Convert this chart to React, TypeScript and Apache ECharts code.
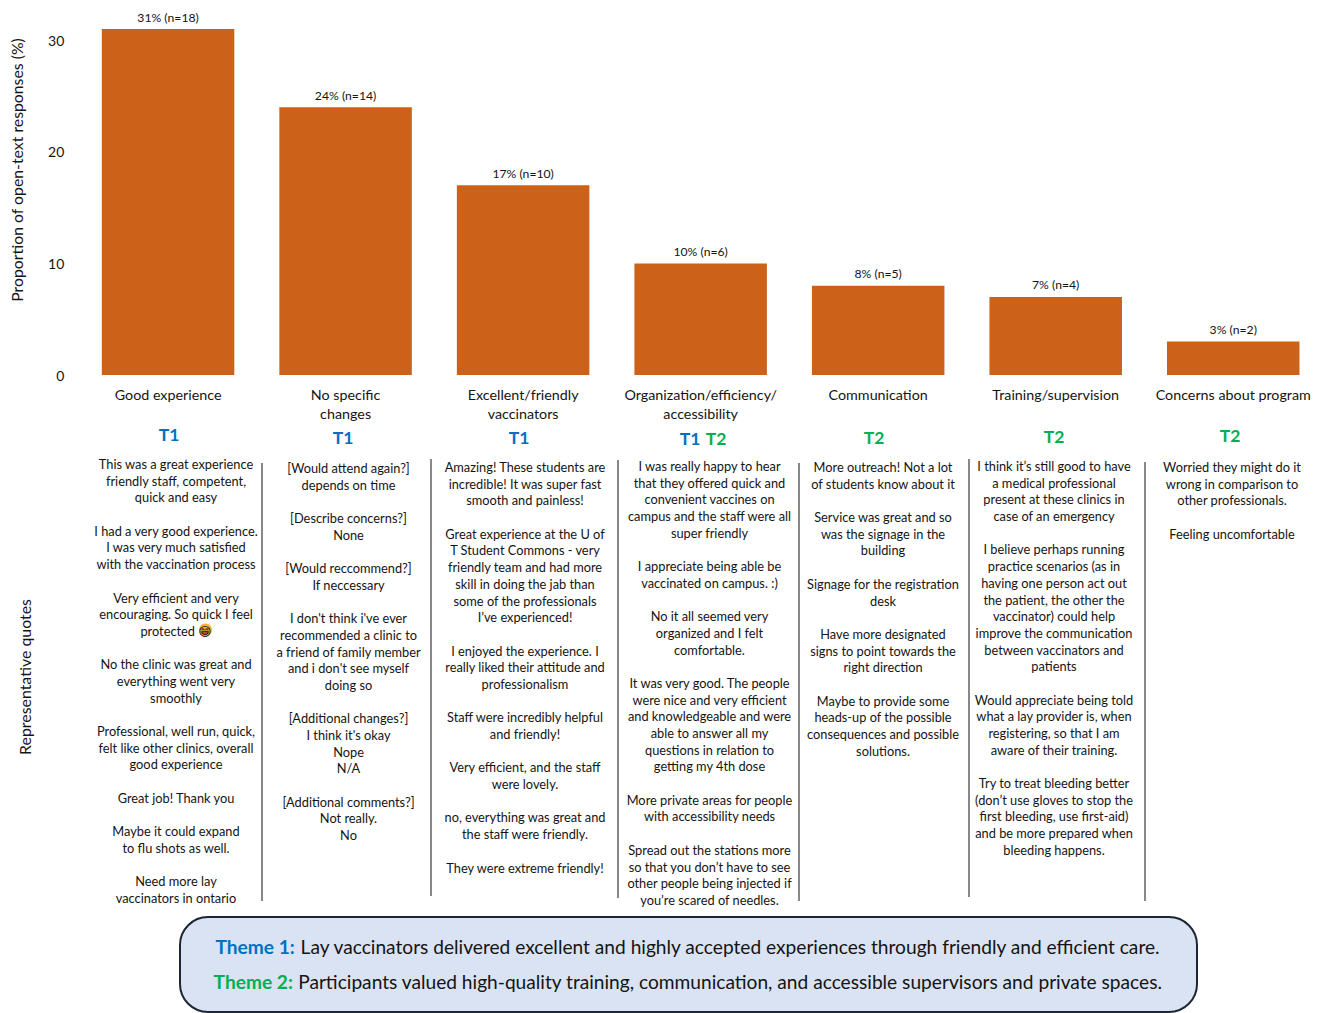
import React, { useEffect, useRef } from "react";
import * as echarts from "echarts";

// Open-text response categories and their counts
const categories = [
  "Good experience",
  "No specific\nchanges",
  "Excellent/friendly\nvaccinators",
  "Organization/efficiency/\naccessibility",
  "Communication",
  "Training/supervision",
  "Concerns about program",
];
const percents = [31, 24, 17, 10, 8, 7, 3];
const counts = [18, 14, 10, 6, 5, 4, 2];
const yTicks = [0, 10, 20, 30];

// Theme tags shown under each category
const themeTags = [["T1"], ["T1"], ["T1"], ["T1", "T2"], ["T2"], ["T2"], ["T2"]];

// Representative quotes, one list per category
const quotesGood = [
  "This was a great experience", "friendly staff, competent,", "quick and easy", "",
  "I had a very good experience.", "I was very much satisfied", "with the vaccination process", "",
  "Very efficient and very", "encouraging. So quick I feel", "protected 😁", "",
  "No the clinic was great and", "everything went very", "smoothly", "",
  "Professional, well run, quick,", "felt like other clinics, overall", "good experience", "",
  "Great job! Thank you", "",
  "Maybe it could expand", "to flu shots as well.", "",
  "Need more lay", "vaccinators in ontario",
];
const quotesNoChanges = [
  "[Would attend again?]", "depends on time", "",
  "[Describe concerns?]", "None", "",
  "[Would reccommend?]", "If neccessary", "",
  "I don't think i've ever", "recommended a clinic to", "a friend of family member", "and i don't see myself", "doing so", "",
  "[Additional changes?]", "I think it's okay", "Nope", "N/A", "",
  "[Additional comments?]", "Not really.", "No",
];
const quotesVaccinators = [
  "Amazing! These students are", "incredible! It was super fast", "smooth and painless!", "",
  "Great experience at the U of", "T Student Commons - very", "friendly team and had more", "skill in doing the jab than", "some of the professionals", "I’ve experienced!", "",
  "I enjoyed the experience. I", "really liked their attitude and", "professionalism", "",
  "Staff were incredibly helpful", "and friendly!", "",
  "Very efficient, and the staff", "were lovely.", "",
  "no, everything was great and", "the staff were friendly.", "",
  "They were extreme friendly!",
];
const quotesOrganization = [
  "I was really happy to hear", "that they offered quick and", "convenient vaccines on", "campus and the staff were all", "super friendly", "",
  "I appreciate being able be", "vaccinated on campus. :)", "",
  "No it all seemed very", "organized and I felt", "comfortable.", "",
  "It was very good. The people", "were nice and very efficient", "and knowledgeable and were", "able to answer all my", "questions in relation to", "getting my 4th dose", "",
  "More private areas for people", "with accessibility needs", "",
  "Spread out the stations more", "so that you don’t have to see", "other people being injected if", "you’re scared of needles.",
];
const quotesCommunication = [
  "More outreach! Not a lot", "of students know about it", "",
  "Service was great and so", "was the signage in the", "building", "",
  "Signage for the registration", "desk", "",
  "Have more designated", "signs to point towards the", "right direction", "",
  "Maybe to provide some", "heads-up of the possible", "consequences and possible", "solutions.",
];
const quotesTraining = [
  "I think it’s still good to have", "a medical professional", "present at these clinics in", "case of an emergency", "",
  "I believe perhaps running", "practice scenarios (as in", "having one person act out", "the patient, the other the", "vaccinator) could help", "improve the communication", "between vaccinators and", "patients", "",
  "Would appreciate being told", "what a lay provider is, when", "registering, so that I am", "aware of their training.", "",
  "Try to treat bleeding better", "(don’t use gloves to stop the", "first bleeding, use first-aid)", "and be more prepared when", "bleeding happens.",
];
const quotesConcerns = [
  "Worried they might do it", "wrong in comparison to", "other professionals.", "",
  "Feeling uncomfortable",
];
const quoteColumns = [
  quotesGood, quotesNoChanges, quotesVaccinators, quotesOrganization,
  quotesCommunication, quotesTraining, quotesConcerns,
];

const theme1Label = "Theme 1:";
const theme1Text = "Lay vaccinators delivered excellent and highly accepted experiences through friendly and efficient care.";
const theme2Label = "Theme 2:";
const theme2Text = "Participants valued high-quality training, communication, and accessible supervisors and private spaces.";

// Layout of the annotation panel under the axis
const FONT = 'Lato, "DejaVu Sans", sans-serif';
const INK = "#141414";
const BLUE = "#0070C0";
const GREEN = "#00B050";
const QUOTE_LINE = 16.69;
const quoteCenterX = [176, 348.5, 525, 709.5, 883, 1054, 1232];
const quoteFirstLineY = [464, 468, 467, 466, 467, 466, 467];
const tagX = [[169], [343], [519], [690, 716], [874], [1054], [1230]];
const tagY = [434.5, 437.5, 437.5, 438.5, 437.5, 436.5, 435.5];
const dividers = [
  [262, 463, 901],
  [431, 459, 896],
  [618, 460, 898],
  [799, 463, 901],
  [969, 459, 897],
  [1145, 462, 901],
];

function buildGraphics() {
  const items: any[] = [];

  items.push({
    type: "text", x: 16, y: 170, rotation: Math.PI / 2,
    style: { text: "Proportion of open-text responses (%)", font: `15.8px ${FONT}`, fill: INK, align: "center", verticalAlign: "middle" },
  });
  items.push({
    type: "text", x: 24, y: 677, rotation: Math.PI / 2,
    style: { text: "Representative quotes", font: `15.9px ${FONT}`, fill: INK, align: "center", verticalAlign: "middle" },
  });

  themeTags.forEach((tags, i) => {
    tags.forEach((tag, j) => {
      items.push({
        type: "text", x: tagX[i][j], y: tagY[i],
        style: { text: tag, font: `bold 17.5px ${FONT}`, fill: tag === "T1" ? BLUE : GREEN, align: "center", verticalAlign: "middle" },
      });
    });
  });

  // Warm disc behind the grinning face in the first quote column
  items.push({ type: "circle", shape: { cx: 205.5, cy: 630, r: 6.5 }, style: { fill: "#F3B23F" } });

  quoteColumns.forEach((lines, i) => {
    items.push({
      type: "text", x: quoteCenterX[i], y: quoteFirstLineY[i] - QUOTE_LINE / 2,
      style: { text: lines.join("\n"), font: `12.8px ${FONT}`, fill: INK, align: "center", verticalAlign: "top", lineHeight: QUOTE_LINE },
    });
  });

  dividers.forEach(([x, y1, y2]) => {
    items.push({ type: "line", shape: { x1: x, y1, x2: x, y2 }, style: { stroke: "#555555", lineWidth: 1.4 } });
  });

  items.push({
    type: "rect", shape: { x: 180, y: 917, width: 1017, height: 95, r: 28 },
    style: { fill: "#DAE3F3", stroke: "#1c2733", lineWidth: 2 },
  });
  const richStyles = (color: string) => ({
    tag: { font: `bold 19.15px ${FONT}`, fill: color },
    body: { font: `19.15px ${FONT}`, fill: INK },
  });
  items.push({
    type: "text", x: 688, y: 946,
    style: { text: `{tag|${theme1Label}} {body|${theme1Text}}`, rich: richStyles(BLUE), font: `19.15px ${FONT}`, align: "center", verticalAlign: "middle" },
  });
  items.push({
    type: "text", x: 688, y: 981,
    style: { text: `{tag|${theme2Label}} {body|${theme2Text}}`, rich: richStyles(GREEN), font: `19.15px ${FONT}`, align: "center", verticalAlign: "middle" },
  });
  return items;
}

export default function App() {
  const ref = useRef<HTMLDivElement>(null);

  useEffect(() => {
    document.body.style.margin = "0";
    const chart = echarts.init(ref.current!, undefined, { renderer: "svg" });
    chart.setOption({
      animation: false,
      backgroundColor: "#ffffff",
      grid: { left: 79.3, top: 17.9, width: 1244, height: 357.1, containLabel: false },
      xAxis: {
        type: "category",
        data: categories,
        axisLine: { show: false },
        axisTick: { show: false },
        axisLabel: { interval: 0, margin: 10, fontFamily: FONT, fontSize: 14.3, lineHeight: 19, color: INK },
      },
      yAxis: {
        type: "value",
        min: 0,
        max: 32,
        interval: 10,
        splitLine: { show: false },
        axisLine: { show: false },
        axisTick: { show: false },
        axisLabel: {
          margin: 15,
          fontFamily: FONT,
          fontSize: 14,
          color: INK,
          padding: [0, 0, 3, 0],
          formatter: (v: number) => (yTicks.includes(v) ? String(v) : ""),
        },
      },
      series: [
        {
          type: "bar",
          data: percents,
          barWidth: 132.5,
          itemStyle: { color: "#CC6119" },
          label: {
            show: true,
            position: "top",
            distance: 6,
            fontFamily: FONT,
            fontSize: 12.2,
            color: INK,
            formatter: (p: any) => `${percents[p.dataIndex]}% (n=${counts[p.dataIndex]})`,
          },
        },
      ],
      graphic: { elements: buildGraphics() },
    });
    return () => chart.dispose();
  }, []);

  return <div ref={ref} style={{ width: 1322, height: 1013 }} />;
}
